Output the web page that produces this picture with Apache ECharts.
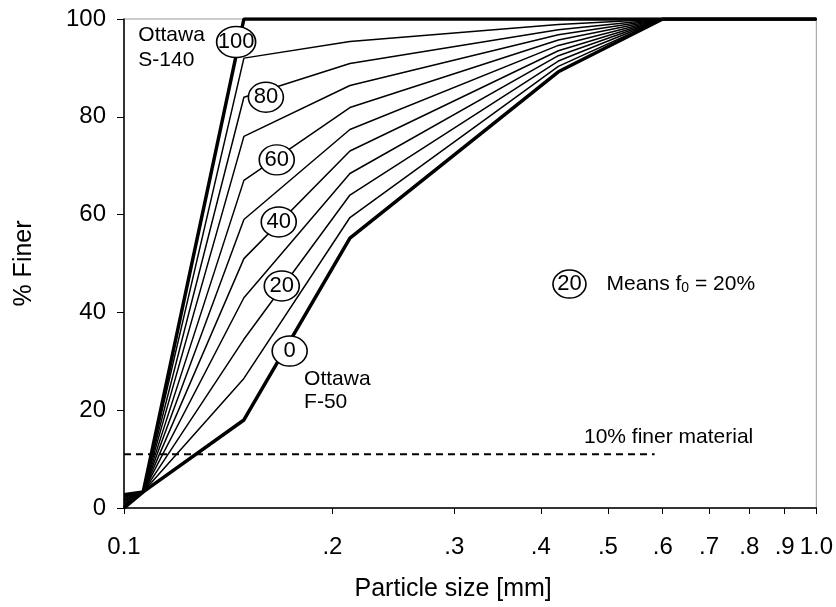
<!DOCTYPE html>
<html>
<head>
<meta charset="utf-8">
<script src="https://cdn.jsdelivr.net/npm/echarts@6/dist/echarts.min.js"></script>
<style>
html,body{margin:0;padding:0;background:#fff;}
#chart{width:836px;height:607px;}
</style>
</head>
<body>
<div id="chart"></div>
<script>
// Particle sizes [mm] at the break points of the gradation curves
var sizes = [0.1, 0.1066, 0.149, 0.212, 0.424, 0.6, 1.0];
// % finer for each fines content f0 (0 = Ottawa F-50, 100 = Ottawa S-140)
var f0_0   = [0.0, 3.3, 18.0, 55.2, 89.2, 100, 100];
var f0_10  = [0.3, 3.3, 26.5, 59.4, 90.3, 100, 100];
var f0_20  = [0.5, 3.3, 34.5, 64.0, 91.4, 100, 100];
var f0_30  = [0.8, 3.3, 43.0, 68.4, 92.5, 100, 100];
var f0_40  = [1.1, 3.3, 51.0, 73.0, 93.5, 100, 100];
var f0_50  = [1.4, 3.3, 59.0, 77.4, 94.6, 100, 100];
var f0_60  = [1.6, 3.3, 67.0, 81.9, 95.7, 100, 100];
var f0_70  = [1.9, 3.3, 76.0, 86.4, 96.8, 100, 100];
var f0_80  = [2.2, 3.3, 84.0, 90.9, 97.8, 100, 100];
var f0_90  = [2.4, 3.3, 92.0, 95.4, 98.9, 100, 100];
var f0_100 = [2.7, 3.3, 100, 100, 100, 100, 100];
var curveNames = ['0','10','20','30','40','50','60','70','80','90','100'];
var curves = [f0_0, f0_10, f0_20, f0_30, f0_40, f0_50, f0_60, f0_70, f0_80, f0_90, f0_100];

// 10% finer reference line
var finerLevel = 11;
var finerRange = [0.1, 0.584];

// x tick values & labels
var xTickValues = [0.1, 0.2, 0.3, 0.4, 0.5, 0.6, 0.7, 0.8, 0.9, 1.0];
var xTickLabels = ['0.1', '.2', '.3', '.4', '.5', '.6', '.7', '.8', '.9', '1.0'];

// circled f0 labels placed on the curves: [size, %finer, text]
var circleLabels = [
  [0.1452, 95.3, '100'],
  [0.1603, 84.0, '80'],
  [0.1662, 71.2, '60'],
  [0.1673, 58.5, '40'],
  [0.1690, 45.4, '20'],
  [0.1735, 32.1, '0'],
  [0.440, 45.8, '20']
];

// free text annotations: [size, %finer, text, lineHeight]
var texts = [
  [0.1047, 94.1, 'Ottawa\nS-140', 25],
  [0.1817, 23.9, 'Ottawa\nF-50', 23],
  [0.461, 14.5, '10% finer material', 22],
  [0.497, 45.8, 'Means f{sub|0} = 20%', 22]
];

var FONT = '"Liberation Sans", Arial, sans-serif';

var series = [];
curves.forEach(function (vals, k) {
  var thick = (k === 0 || k === curves.length - 1);
  series.push({
    type: 'line',
    name: 'f0=' + curveNames[k],
    data: sizes.map(function (s, i) { return [s, vals[i]]; }),
    symbol: 'none',
    silent: true,
    z: thick ? 3 : 2,
    lineStyle: { color: '#000', width: thick ? 3.5 : 1.5 }
  });
});

series.push({
  type: 'line',
  name: '10% finer',
  data: [[finerRange[0], finerLevel], [finerRange[1], finerLevel]],
  symbol: 'none',
  silent: true,
  z: 2,
  lineStyle: { color: '#000', width: 2, type: [7, 5] }
});

series.push({
  type: 'scatter',
  name: 'circles',
  z: 5,
  silent: true,
  data: circleLabels.map(function (c) {
    var w = c[2] === '100' ? 39 : 35;
    var h = c[2] === '100' ? 31 : 30;
    if (c[1] === 45.8) { w = 33; h = 28; }
    return { value: [c[0], c[1]], name: c[2], symbolSize: [w, h] };
  }),
  symbol: 'circle',
  itemStyle: { color: '#fff', borderColor: '#000', borderWidth: 1.5, opacity: 1 },
  label: {
    show: true, position: 'inside', formatter: '{b}',
    color: '#000', fontSize: 22, fontFamily: FONT
  }
});

series.push({
  type: 'scatter',
  name: 'texts',
  z: 6,
  silent: true,
  symbolSize: 1,
  itemStyle: { color: 'rgba(0,0,0,0)', opacity: 1 },
  data: texts.map(function (t) {
    return {
      value: [t[0], t[1]],
      label: {
        show: true, position: 'right', distance: 0, align: 'left', verticalAlign: 'middle',
        formatter: t[2], color: '#000', fontSize: 21, fontFamily: FONT, lineHeight: t[3],
        rich: { sub: { fontSize: 14, verticalAlign: 'bottom', padding: [9, 0, 0, 0], fontFamily: FONT, color: '#000' } }
      }
    };
  })
});

var chart = echarts.init(document.getElementById('chart'), null, { renderer: 'canvas' });
chart.setOption({
  animation: false,
  backgroundColor: '#fff',
  grid: { left: 124, right: 14, top: 19, bottom: 99, show: true, borderColor: '#999', borderWidth: 1, backgroundColor: 'transparent' },
  xAxis: {
    type: 'log', logBase: 10, min: 0.1, max: 1.0,
    name: 'Particle size [mm]', nameLocation: 'middle', nameGap: 69,
    nameTextStyle: { fontSize: 25, fontFamily: FONT, color: '#000', padding: [0, 34, 0, 0] },
    axisLine: { show: true, lineStyle: { color: '#000', width: 1.5 } },
    axisTick: { show: true, inside: false, length: 6, customValues: xTickValues, lineStyle: { color: '#000', width: 1 } },
    axisLabel: {
      show: true, margin: 27, customValues: xTickValues,
      fontSize: 24, fontFamily: FONT, color: '#000',
      formatter: function (v) {
        var best = 0, d = Infinity;
        xTickValues.forEach(function (t, i) { var dd = Math.abs(Math.log(t) - Math.log(v)); if (dd < d) { d = dd; best = i; } });
        return xTickLabels[best];
      }
    },
    minorTick: { show: false },
    splitLine: { show: false }
  },
  yAxis: {
    type: 'value', min: 0, max: 100, interval: 20,
    name: '% Finer', nameLocation: 'middle', nameGap: 87, nameRotate: 90,
    nameTextStyle: { fontSize: 25, fontFamily: FONT, color: '#000' },
    axisLine: { show: true, lineStyle: { color: '#000', width: 1.5 } },
    axisTick: { show: true, inside: false, length: 7, lineStyle: { color: '#000', width: 1 } },
    axisLabel: { margin: 18, fontSize: 24, fontFamily: FONT, color: '#000' },
    splitLine: { show: false }
  },
  series: series
});
</script>
</body>
</html>
